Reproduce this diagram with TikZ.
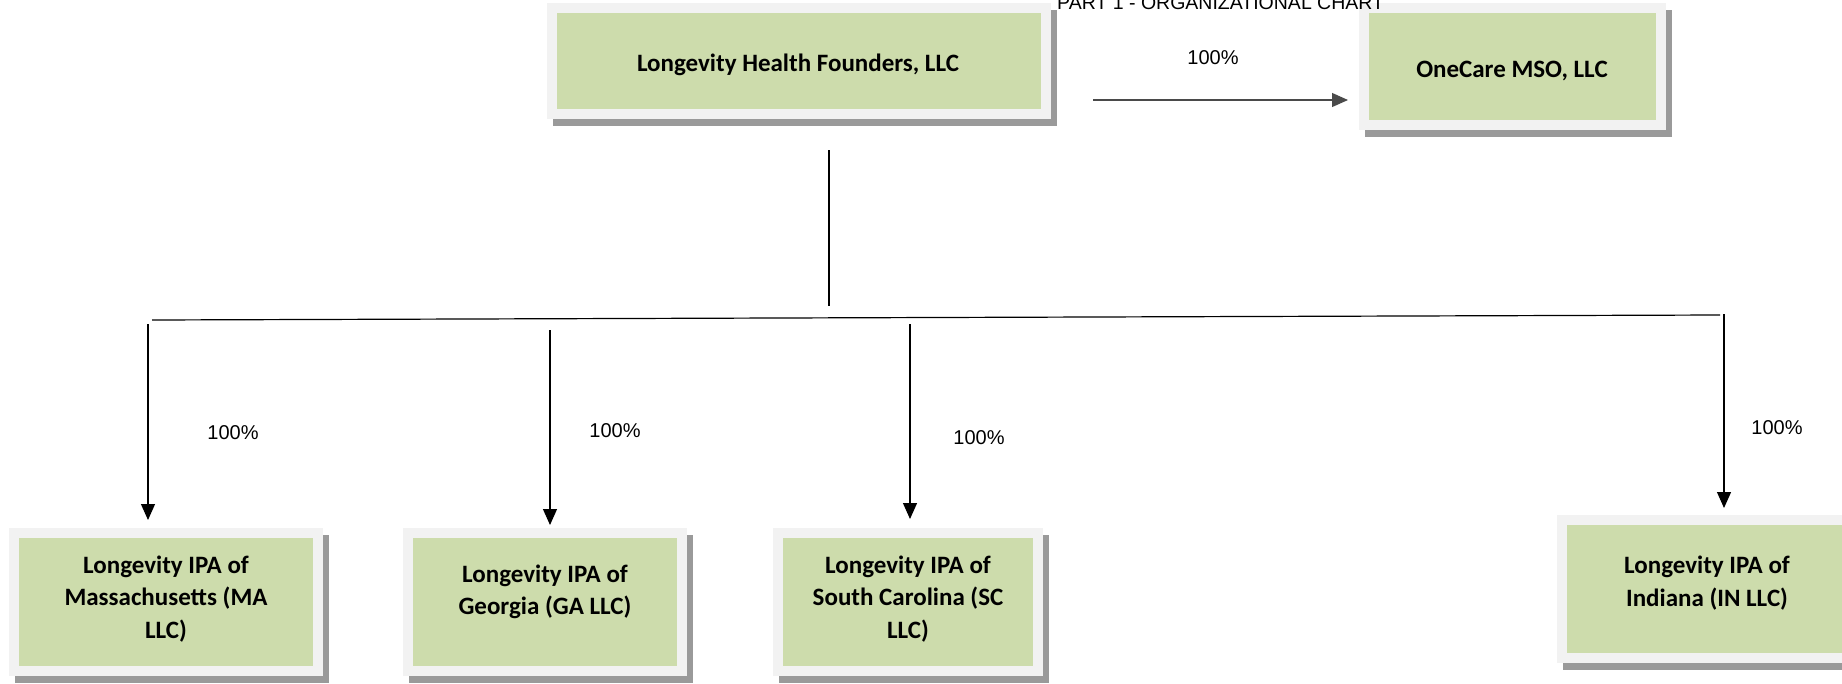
\documentclass[tikz,border=0pt]{standalone}
\usepackage{fontspec}
\setmainfont{Liberation Sans}
\newfontfamily\boxfont{Carlito}
\usetikzlibrary{arrows.meta,backgrounds,calc}
\definecolor{boxgreen}{HTML}{CDDCAC}
\definecolor{framegrey}{HTML}{F2F2F2}
\definecolor{shadowgrey}{HTML}{9A9A9A}
\definecolor{toparrow}{HTML}{4A4A4A}
\tikzset{
  orgbox/.style={fill=boxgreen, draw=framegrey, line width=10pt, inner sep=0pt},
  boxtext/.style={font=\boxfont\bfseries\fontsize{25}{32.5}\selectfont, align=center, inner sep=0pt},
  pct/.style={font=\fontsize{20}{24}\selectfont, inner sep=0pt},
  titletext/.style={font=\fontsize{19.5}{23}\selectfont, inner sep=0pt},
  plainline/.style={line width=1.2pt, draw=black},
  link/.style={line width=1.2pt, draw=black, -{Triangle[width=14pt,length=16pt]}},
}
\newcommand{\boxshadow}[1]{\fill[shadowgrey] ([shift={(6pt,-7pt)}]#1.south west) rectangle ([shift={(6pt,-7pt)}]#1.north east);}
\begin{document}
\begin{tikzpicture}[x=1pt,y=-1pt]
\useasboundingbox (0,0) rectangle (1842,683);
% boxes
\node[orgbox, minimum width=494, minimum height=106] (lhf) at (799,61) {};
\node[orgbox, minimum width=297, minimum height=117] (oc) at (1512.5,66.5) {};
\node[orgbox, minimum width=304, minimum height=138] (ma) at (166,602) {};
\node[orgbox, minimum width=274, minimum height=138] (ga) at (545,602) {};
\node[orgbox, minimum width=260, minimum height=138] (sc) at (908,602) {};
\node[orgbox, minimum width=290, minimum height=138] (in) at (1707,589) {};
\begin{scope}[on background layer]
  \boxshadow{lhf}\boxshadow{oc}\boxshadow{ma}\boxshadow{ga}\boxshadow{sc}\boxshadow{in}
\end{scope}
% box texts
\node[boxtext, anchor=base] (lhfT) at (798,71) {Longevity Health Founders, LLC};
\node[boxtext, anchor=base] (ocT) at (1512,77) {OneCare MSO, LLC};
\node[boxtext] (maT) at (166,599) {Longevity IPA of\\Massachusetts (MA\\LLC)};
\node[boxtext] (gaT) at (545,592) {Longevity IPA of\\Georgia (GA LLC)};
\node[boxtext] (scT) at (908,599) {Longevity IPA of\\South Carolina (SC\\LLC)};
\node[boxtext] (inT) at (1707,583) {Longevity IPA of\\Indiana (IN LLC)};
% title
\node[titletext, anchor=base west] (title) at (1057,9) {PART 1 - ORGANIZATIONAL CHART};
% connector coordinates
\coordinate (hubTop) at (829,150);
\coordinate (hubBot) at (829,306);
\coordinate (barL) at (152,320);
\coordinate (barR) at (1720,315);
\coordinate (maA) at (148,324);
\coordinate (gaA) at (550,330);
\coordinate (scA) at (910,324);
\coordinate (inA) at (1724,314);
\coordinate (ocA) at (1093,100);
% connectors
\draw[plainline] (hubTop) -- (hubBot);
\draw[plainline] (barL) -- (barR);
\draw[link, shorten >=8pt] (maA) -- (maA |- ma.north);
\draw[link, shorten >=3pt] (gaA) -- (gaA |- ga.north);
\draw[link, shorten >=9pt] (scA) -- (scA |- sc.north);
\draw[link, shorten >=7pt] (inA) -- (inA |- in.north);
\draw[link, draw=toparrow, fill=toparrow, shorten >=11pt] (ocA) -- (ocA -| oc.west);
% percentages
\node[pct] (pTop) at (1213,58) {100\%};
\node[pct] (pMA) at (233,433) {100\%};
\node[pct] (pGA) at (615,431) {100\%};
\node[pct] (pSC) at (979,438) {100\%};
\node[pct] (pIN) at (1777,428) {100\%};
\end{tikzpicture}
\end{document}
